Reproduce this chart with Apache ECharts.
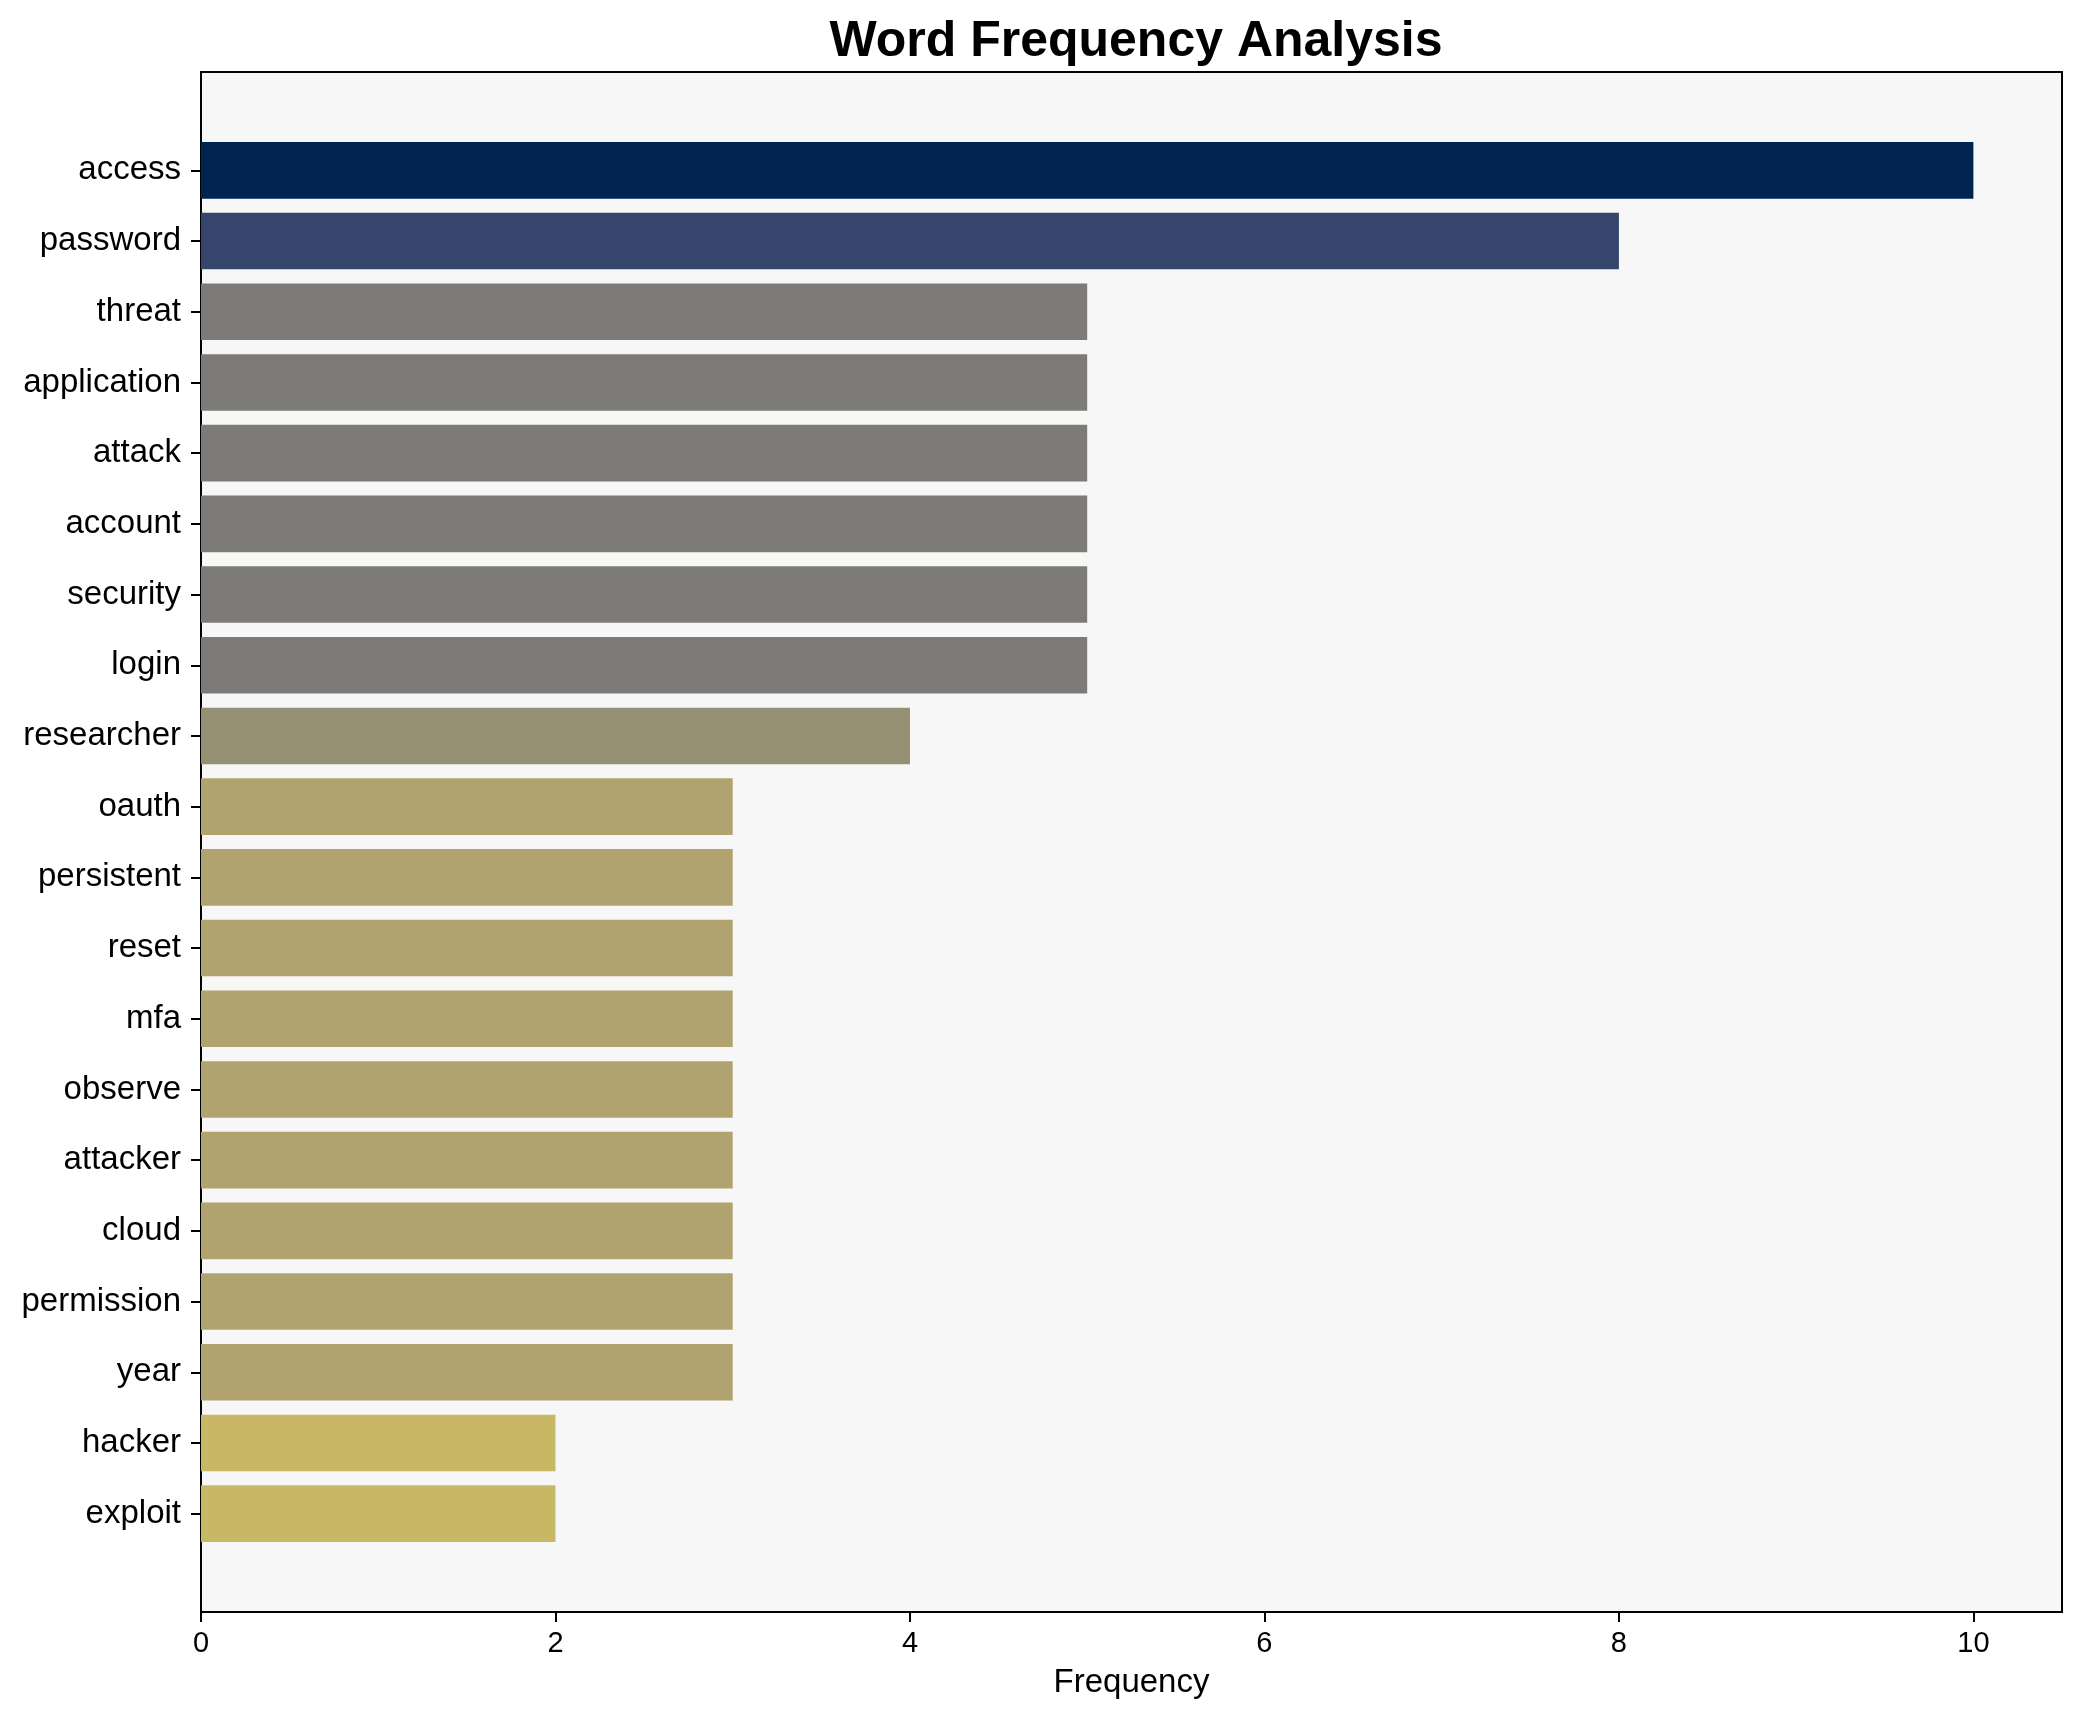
<!DOCTYPE html>
<html>
<head>
<meta charset="utf-8">
<script src="https://cdn.jsdelivr.net/npm/echarts@6/dist/echarts.min.js"></script>
<style>
html,body{margin:0;padding:0;background:#fff;}
#chart{width:2080px;height:1722px;}
</style>
</head>
<body>
<div id="chart"></div>
<script>
const words = ["access","password","threat","application","attack","account","security","login","researcher","oauth","persistent","reset","mfa","observe","attacker","cloud","permission","year","hacker","exploit"];
const counts = [10,8,5,5,5,5,5,5,4,3,3,3,3,3,3,3,3,3,2,2];
const xTicks = [0,2,4,6,8,10];
const barColors = ["#00234F","#35456B","#7C7B78","#7C7B78","#7C7B78","#7C7B78","#7C7B78","#7C7B78","#958F74","#B0A370","#B0A370","#B0A370","#B0A370","#B0A370","#B0A370","#B0A370","#B0A370","#B0A370","#C8B866","#C8B866"];

const FONT = "'Liberation Sans', Arial, sans-serif";
const chart = echarts.init(document.getElementById('chart'), null, {renderer:'canvas'});
chart.setOption({
  animation:false,
  backgroundColor:'#ffffff',
  textStyle:{fontFamily:FONT},
  title:{
    text:'Word Frequency Analysis',
    left:1131, top:12, textAlign:'center',
    textStyle:{fontFamily:FONT, fontSize:50, fontWeight:'bold', color:'#000'}
  },
  grid:[
    {left:201, right:18, top:72, bottom:110, show:true, backgroundColor:'#F7F7F7', borderColor:'#000', borderWidth:2, containLabel:false},
    {left:201, right:18, top:135, bottom:173, show:false, containLabel:false}
  ],
  xAxis:[
    {type:'value', gridIndex:0, min:0, max:10.5,
     name:'Frequency', nameLocation:'middle', nameGap:54,
     nameTextStyle:{fontFamily:FONT, fontSize:33, color:'#000'},
     axisLine:{show:true, lineStyle:{color:'#000', width:2}},
     axisTick:{show:true, length:10, lineStyle:{color:'#000', width:2}, customValues:xTicks},
     axisLabel:{fontFamily:FONT, fontSize:29, color:'#000', margin:17, customValues:xTicks},
     splitLine:{show:false}},
    {type:'value', gridIndex:1, min:0, max:10.5, show:false, splitLine:{show:false}}
  ],
  yAxis:[
    {type:'value', gridIndex:0, show:false, splitLine:{show:false}},
    {type:'category', gridIndex:1, data:words, inverse:true,
     axisLine:{show:false},
     axisTick:{show:true, alignWithLabel:true, length:10, lineStyle:{color:'#000', width:2}},
     axisLabel:{fontFamily:FONT, fontSize:33, color:'#000', margin:20},
     splitLine:{show:false}}
  ],
  series:[{
    type:'bar', xAxisIndex:1, yAxisIndex:1, barWidth:'80%',
    data:counts.map((v,i)=>({value:v, itemStyle:{color:barColors[i]}}))
  }]
});
</script>
</body>
</html>
